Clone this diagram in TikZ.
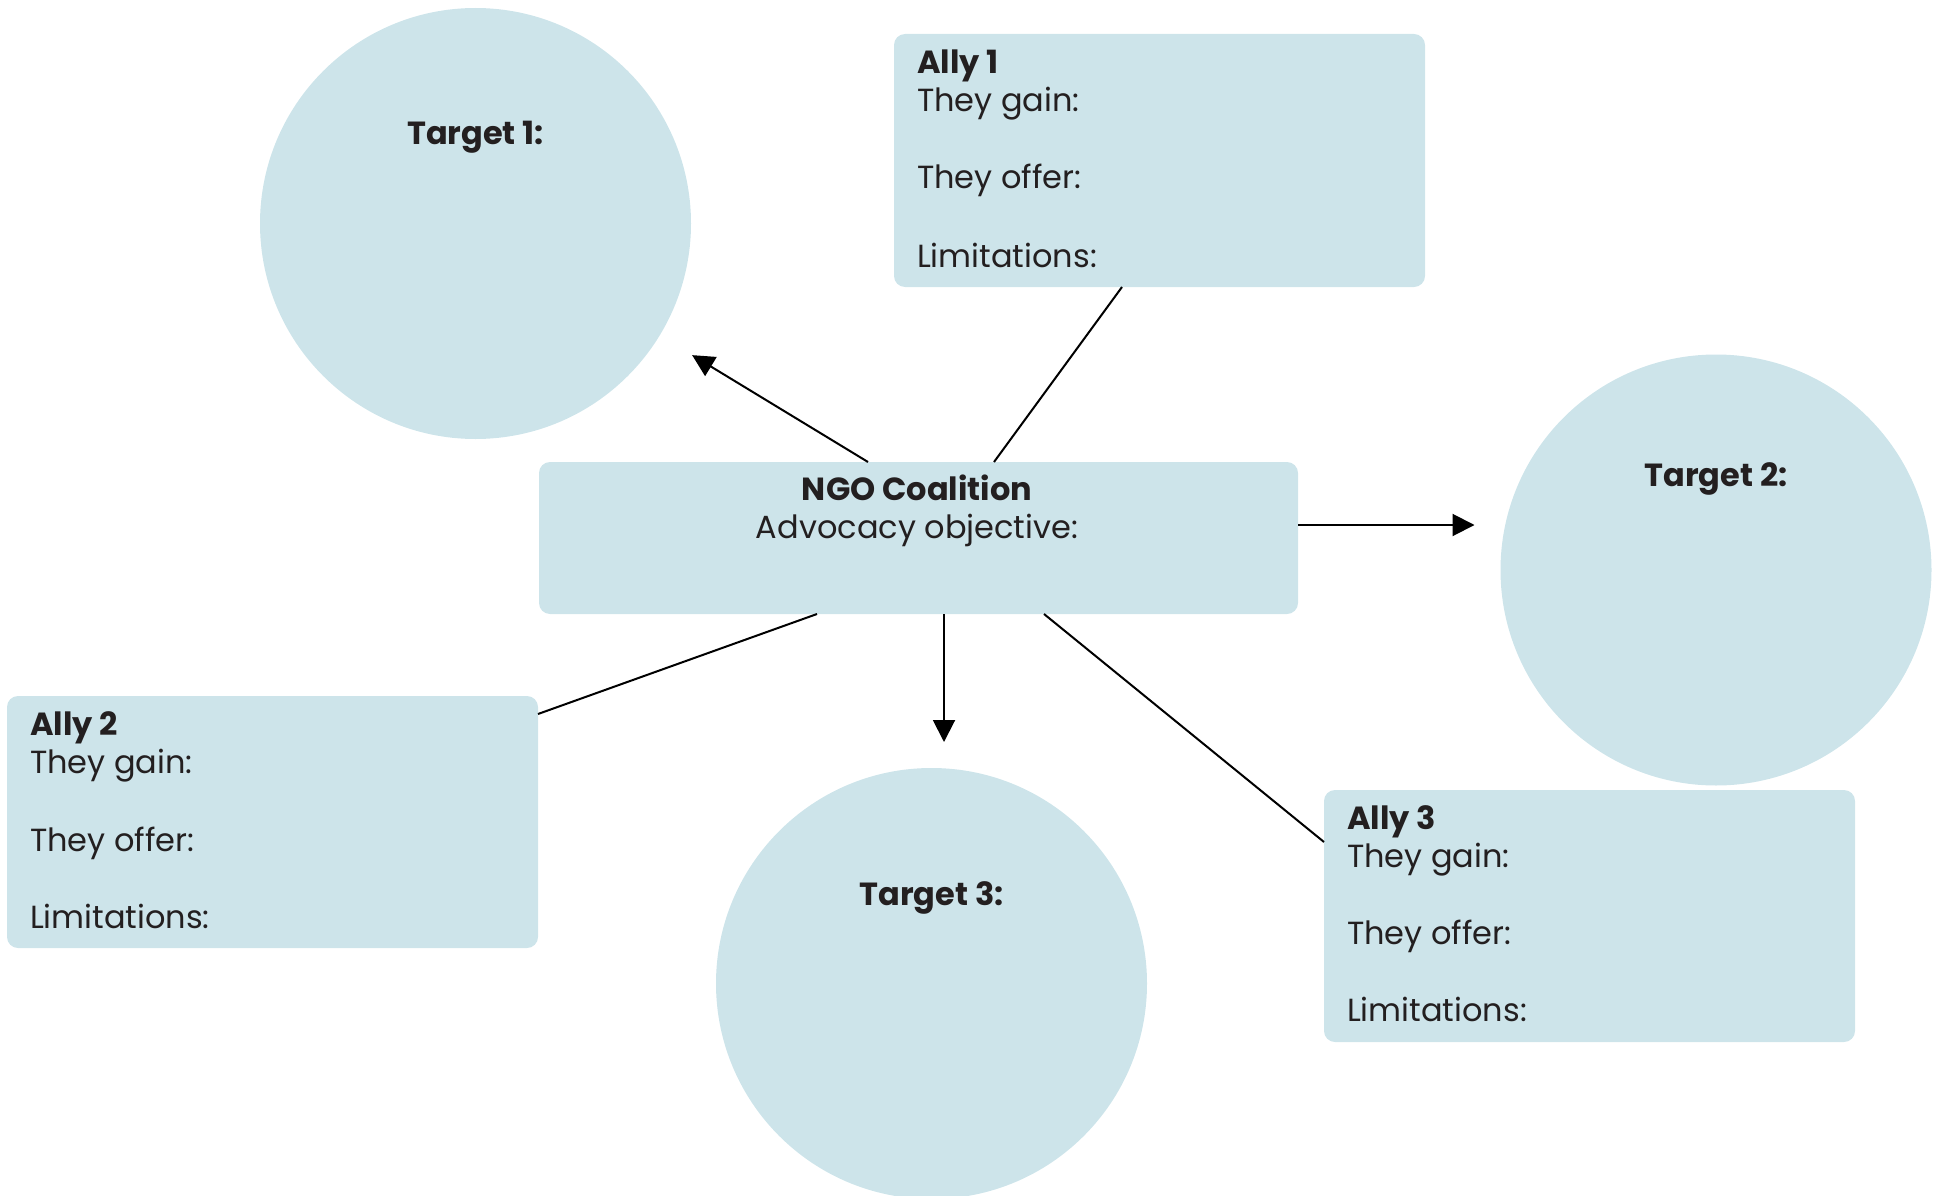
\documentclass[tikz,border=0pt]{standalone}
\usepackage{fontspec}
\setmainfont{Poppins}
\usetikzlibrary{arrows.meta}
\definecolor{boxblue}{HTML}{CDE4EA}
\definecolor{ink}{HTML}{231F20}
\begin{document}
\begin{tikzpicture}[x=1pt,y=-1pt,
  box/.style={fill=boxblue, draw=none, rounded corners=11pt, inner sep=0pt, outer sep=0pt, anchor=north west},
  target/.style={circle, fill=boxblue, draw=none, inner sep=0pt, outer sep=0pt, minimum size=431pt},
  txt/.style={anchor=base west, inner sep=0pt, outer sep=0pt, text=ink, font=\fontsize{32}{38}\selectfont},
  ttl/.style={txt, font=\fontsize{32}{38}\selectfont\bfseries},
  clabel/.style={anchor=base, inner sep=0pt, outer sep=0pt, text=ink, font=\fontsize{32}{38}\selectfont\bfseries},
  ctext/.style={anchor=base, inner sep=0pt, outer sep=0pt, text=ink, font=\fontsize{32}{38}\selectfont},
  conn/.style={line width=2pt, draw=black},
  arr/.style={conn, -{Triangle[length=22pt,width=22pt]}},
]
\useasboundingbox (0,0) rectangle (1941,1196);

% targets
\node[target] (t1) at (475.5,223.5) {};
\node[target] (t2) at (1716,570) {};
\node[target] (t3) at (931.5,983.5) {};
\node[clabel] (t1l) at (475.5,145) {Target 1:};
\node[clabel] (t2l) at (1716,486) {Target 2:};
\node[clabel] (t3l) at (931.5,905) {Target 3:};

% boxes
\node[box, minimum width=531pt, minimum height=253pt] (a1) at (894,34) {};
\node[box, minimum width=531pt, minimum height=252pt] (a2) at (7,696) {};
\node[box, minimum width=531pt, minimum height=252pt] (a3) at (1324,790) {};
\node[box, minimum width=759pt, minimum height=152pt] (ngo) at (539,462) {};

% Ally 1 text
\node[ttl] (a1t) at (917,74) {Ally 1};
\node[txt] (a1g) at (917,112) {They gain:};
\node[txt] (a1o) at (917,189) {They offer:};
\node[txt] (a1m) at (917,267) {Limitations:};
% Ally 2 text
\node[ttl] (a2t) at (30,735) {Ally 2};
\node[txt] (a2g) at (30,773) {They gain:};
\node[txt] (a2o) at (30,851) {They offer:};
\node[txt] (a2m) at (30,928) {Limitations:};
% Ally 3 text
\node[ttl] (a3t) at (1347,829) {Ally 3};
\node[txt] (a3g) at (1347,867) {They gain:};
\node[txt] (a3o) at (1347,944) {They offer:};
\node[txt] (a3m) at (1347,1021) {Limitations:};
% NGO text
\node[clabel] (ngot) at (917,500) {NGO Coalition};
\node[ctext] (ngoo) at (917,538) {Advocacy objective:};

% connector end points on box borders
\coordinate (n1) at ([xshift=329pt]ngo.north west);
\coordinate (n2) at ([xshift=455pt]ngo.north west);
\coordinate (n3) at ([yshift=13pt]ngo.east);
\coordinate (n4) at ([xshift=278pt]ngo.south west);
\coordinate (n5) at ([xshift=405pt]ngo.south west);
\coordinate (n6) at ([xshift=505pt]ngo.south west);
\coordinate (a1p) at ([xshift=228pt]a1.south west);
\coordinate (a2p) at ([yshift=-18pt]a2.north east);
\coordinate (a3p) at ([yshift=-52pt]a3.north west);

% connectors
\draw[arr, shorten >=38pt] (n1) -- (t1);
\draw[conn] (a1p) -- (n2);
\draw[arr, shorten >=26pt] (n3) -- (n3 -| t2.west);
\draw[arr, shorten >=26pt] (n5) -- (n5 |- t3.north);
\draw[conn] (n4) -- (a2p);
\draw[conn] (n6) -- (a3p);
\end{tikzpicture}
\end{document}
